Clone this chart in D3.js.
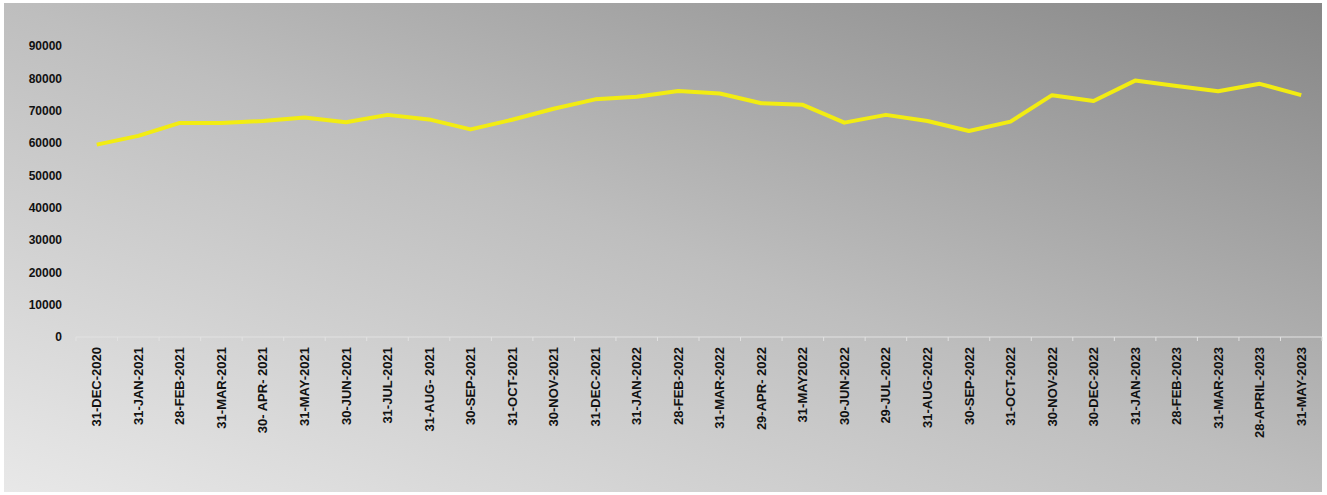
<!DOCTYPE html>
<html>
<head>
<meta charset="utf-8">
<script src="https://cdn.jsdelivr.net/npm/d3@7"></script>
<style>
  html, body { margin: 0; padding: 0; background: #ffffff; }
  svg { display: block; }
</style>
</head>
<body>
<svg id="chart" width="1327" height="495"></svg>
<script>
const categories = [
  "31-DEC-2020","31-JAN-2021","28-FEB-2021","31-MAR-2021","30- APR- 2021","31-MAY-2021",
  "30-JUN-2021","31-JUL-2021","31-AUG- 2021","30-SEP-2021","31-OCT-2021","30-NOV-2021",
  "31-DEC-2021","31-JAN-2022","28-FEB-2022","31-MAR-2022","29-APR- 2022","31-MAY2022",
  "30-JUN-2022","29-JUL-2022","31-AUG-2022","30-SEP-2022","31-OCT-2022","30-NOV-2022",
  "30-DEC-2022","31-JAN-2023","28-FEB-2023","31-MAR-2023","28-APRIL-2023","31-MAY-2023"
];
const values = [
  59500, 62200, 66200, 66200, 66800, 67900,
  66400, 68700, 67300, 64200, 67200, 70600,
  73500, 74300, 76100, 75300, 72300, 71800,
  66300, 68700, 66800, 63700, 66600, 74800,
  73000, 79300, 77600, 76000, 78300, 74800
];
const yTicks = [0, 10000, 20000, 30000, 40000, 50000, 60000, 70000, 80000, 90000];

const svg = d3.select("#chart");

// background frame with diagonal gradient
const defs = svg.append("defs");
const grad = defs.append("linearGradient")
  .attr("id", "bg")
  .attr("x1", 0).attr("y1", 1).attr("x2", 1).attr("y2", 0);
grad.append("stop").attr("offset", "0%").attr("stop-color", "#e8e8e8");
grad.append("stop").attr("offset", "50%").attr("stop-color", "#bebebe");
grad.append("stop").attr("offset", "100%").attr("stop-color", "#868686");

svg.append("rect").attr("x", 4).attr("y", 3).attr("width", 1318).attr("height", 489)
  .attr("fill", "url(#bg)");

const mLeft = 76, mRight = 1322, mTop = 46, mBottom = 337;

const x = d3.scaleBand().domain(categories).range([mLeft, mRight]).padding(0);
const y = d3.scaleLinear().domain([0, 90000]).range([mBottom, mTop]);

// y axis labels
const yAxis = d3.axisLeft(y).tickValues(yTicks).tickSize(0).tickPadding(0).tickFormat(d => String(d));
const gy = svg.append("g").attr("transform", `translate(${62},0)`).call(yAxis);
gy.select(".domain").remove();
gy.selectAll("text")
  .attr("fill", "#111")
  .style("font-family", "'Liberation Sans', Arial, sans-serif")
  .style("font-weight", "bold")
  .style("font-size", "12px");

// x axis
const xAxis = d3.axisBottom(x).tickSize(0).tickPadding(0);
const gx = svg.append("g").attr("transform", `translate(0,${mBottom})`).call(xAxis);
gx.select(".domain").attr("stroke", "#e2e2e2").attr("stroke-width", 1.2)
  .attr("d", `M${mLeft},0H${mRight}`);
gx.selectAll("text")
  .attr("fill", "#111")
  .attr("text-anchor", "end")
  .attr("dy", "0.35em")
  .attr("transform", "translate(0,10) rotate(-90)")
  .attr("x", 0).attr("y", 0)
  .style("font-family", "'Liberation Sans', Arial, sans-serif")
  .style("font-weight", "bold")
  .style("font-size", "13px");

// tick marks at band boundaries
const boundaries = categories.map(c => x(c)).concat([mRight]);
svg.append("g").selectAll("line").data(boundaries).join("line")
  .attr("x1", d => d).attr("x2", d => d)
  .attr("y1", mBottom).attr("y2", mBottom + 4)
  .attr("stroke", "#e2e2e2").attr("stroke-width", 1);

// line
const line = d3.line()
  .x((d, i) => x(categories[i]) + x.bandwidth() / 2)
  .y(d => y(d));
svg.append("path").datum(values)
  .attr("d", line)
  .attr("fill", "none")
  .attr("stroke", "#f2ec12")
  .attr("stroke-width", 4)
  .attr("stroke-linejoin", "round");
</script>
</body>
</html>
